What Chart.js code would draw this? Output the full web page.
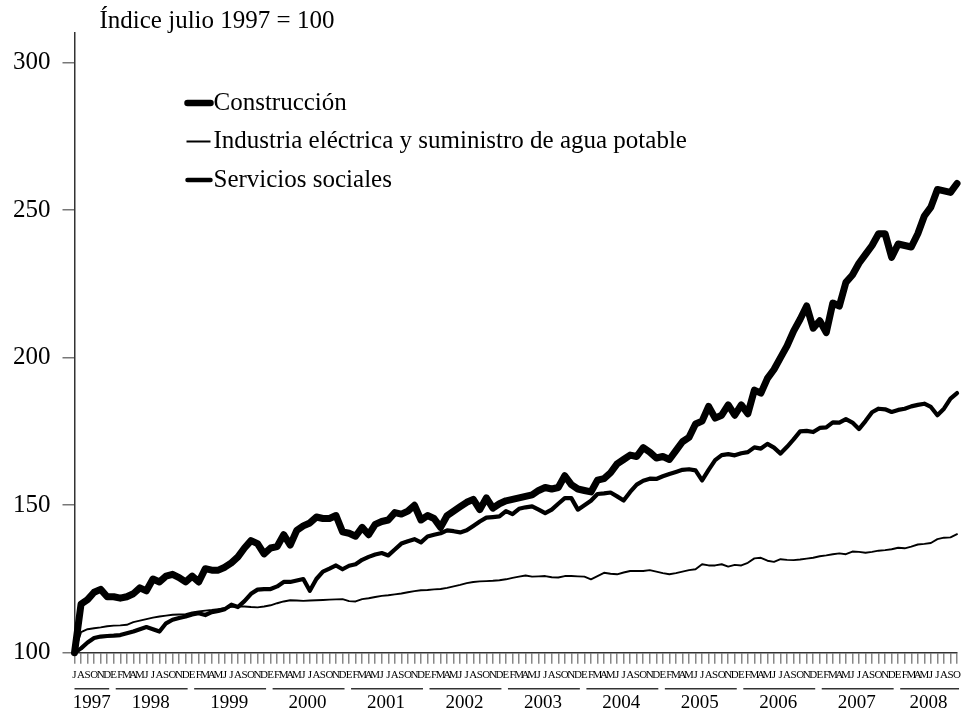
<!DOCTYPE html>
<html>
<head>
<meta charset="utf-8">
<script src="https://cdn.jsdelivr.net/npm/chart.js@4.4.0/dist/chart.umd.min.js"></script>
<style>
  html, body { margin: 0; padding: 0; background: #fff; }
</style>
</head>
<body>
<canvas id="chart" width="966" height="709"></canvas>
<script>
const TITULO = 'Índice julio 1997 = 100';
const ANIOS = [1997, 1998, 1999, 2000, 2001, 2002, 2003, 2004, 2005, 2006, 2007, 2008];
const MESES = ['E', 'F', 'M', 'A', 'M', 'J', 'J', 'A', 'S', 'O', 'N', 'D'];
const PRIMER_MES = 6;   // julio 1997
const ULTIMO_MES = 9;   // octubre 2008
const Y_TICKS = [100, 150, 200, 250, 300];

const construccion = [
    100, 116.5, 118, 120.5, 121.5, 119,
    119, 118.5, 119, 120, 122, 121, 125, 124, 126, 126.6, 125.5, 124,
    126, 124, 128.5, 128, 128, 129, 130.5, 132.5, 135.5, 138, 137, 133.5,
    135.5, 136, 140, 136.5, 141.5, 143, 144, 146, 145.5, 145.5, 146.5, 141,
    140.5, 139.5, 142.5, 140, 143.5, 144.5, 145, 147.5, 147, 148, 150, 145,
    146.5, 145.5, 142.5, 146.5, 148, 149.5, 151, 152, 148.5, 152.5, 149, 150.5,
    151.5, 152, 152.5, 153, 153.5, 155, 156, 155.5, 156, 160, 157, 155.5,
    155, 154.5, 158.5, 159, 161, 164, 165.5, 167, 166.5, 169.5, 168, 166,
    166.5, 165.5, 168.5, 171.5, 173, 177.5, 178.5, 183.5, 179.5, 180.5, 184, 180.5,
    184, 181, 189, 188, 193, 196, 200, 204, 209, 213, 217.5, 210,
    212.5, 208.5, 218.5, 217.5, 225.5, 228, 232, 235, 238, 242, 242, 234,
    238.5, 238, 237.5, 242, 248, 251, 257, 256.5, 256, 259
];
const industria = [
    100, 107, 108, 108.3, 108.6, 109,
    109.2, 109.3, 109.5, 110.4, 110.9, 111.4, 111.9, 112.3, 112.6, 112.9, 113, 113.1,
    113.7, 114, 114.3, 114.5, 114.8, 115.1, 115.6, 115.7, 115.7, 115.5, 115.4, 115.7,
    116.1, 116.8, 117.4, 117.8, 117.7, 117.6, 117.7, 117.8, 117.9, 118, 118.1, 118.2,
    117.5, 117.4, 118.2, 118.5, 118.9, 119.3, 119.5, 119.8, 120.1, 120.5, 120.9, 121.2,
    121.3, 121.5, 121.6, 122, 122.5, 123, 123.6, 124, 124.2, 124.3, 124.4, 124.6,
    124.9, 125.4, 125.8, 126.2, 125.8, 125.9, 126, 125.6, 125.5, 126, 126, 125.9,
    125.8, 124.9, 126, 127.1, 126.8, 126.6, 127.2, 127.7, 127.7, 127.7, 128, 127.5,
    127, 126.6, 127, 127.5, 128, 128.3, 130, 129.6, 129.6, 130, 129.2, 129.8,
    129.6, 130.5, 132, 132.2, 131.2, 130.8, 131.7, 131.5, 131.4, 131.6, 131.9, 132.2,
    132.7, 133, 133.4, 133.7, 133.4, 134.3, 134.2, 133.9, 134.2, 134.6, 134.8, 135.1,
    135.6, 135.4, 136, 136.7, 136.9, 137.2, 138.5, 139, 139.1, 140.2
];
const servicios = [
    100, 101.5, 103.5, 105, 105.5, 105.7,
    105.8, 106, 106.6, 107.2, 108, 108.7, 108, 107.2, 110, 111.2, 111.8, 112.3,
    113, 113.4, 112.8, 113.8, 114.2, 114.8, 116.3, 115.5, 117.5, 120, 121.4, 121.6,
    121.6, 122.5, 124, 124, 124.5, 125, 121, 125, 127.5, 128.5, 129.6, 128.3,
    129.5, 130, 131.5, 132.5, 133.3, 133.8, 133, 135, 137, 137.8, 138.5, 137.4,
    139.4, 140, 140.5, 141.5, 141.2, 140.8, 141.5, 143, 144.5, 145.8, 146, 146.2,
    148, 147, 148.8, 149.3, 149.6, 148.5, 147.3, 148.5, 150.5, 152.4, 152.4, 148.5,
    150, 151.5, 153.8, 154, 154.3, 153, 151.6, 154.5, 157, 158.3, 159, 158.9,
    159.8, 160.6, 161.3, 162, 162.2, 161.8, 158.4, 162, 165.3, 167, 167.3, 166.9,
    167.6, 168, 169.6, 169.2, 170.8, 169.5, 167.5, 169.8, 172.3, 175, 175.2, 174.8,
    176.2, 176.4, 178.1, 178, 179.2, 178, 175.8, 178.5, 181.5, 182.7, 182.5, 181.6,
    182.3, 182.7, 183.5, 184, 184.4, 183.3, 180.5, 182.7, 186.1, 188
];

// categorias mensuales: julio 1997 .. octubre 2008
const categorias = [];
const mesDe = [];
const anioDe = [];
ANIOS.forEach((anio, k) => {
    const desde = k === 0 ? PRIMER_MES : 0;
    const hasta = k === ANIOS.length - 1 ? ULTIMO_MES : 11;
    for (let m = desde; m <= hasta; m++) {
        categorias.push(MESES[m] + ' ' + anio);
        mesDe.push(MESES[m]);
        anioDe.push(anio);
    }
});

const SERIF = '"Liberation Serif", "Times New Roman", serif';

const decoracion = {
    id: 'decoracion',
    afterDraw(chart) {
        const {ctx, chartArea, scales} = chart;
        const x = scales.x;
        ctx.save();
        ctx.fillStyle = '#000';
        ctx.textBaseline = 'middle';

        // titulo
        ctx.font = `25px ${SERIF}`;
        ctx.textAlign = 'left';
        ctx.fillText(TITULO, chartArea.left + 25, 21);

        // leyenda
        chart.data.datasets.forEach((ds, i) => {
            const y = chartArea.top + 70 + i * 38.5;
            const x0 = chartArea.left + 111;
            ctx.strokeStyle = '#000';
            ctx.lineWidth = ds.legendWidth;
            ctx.lineCap = ds.legendWidth > 3 ? 'round' : 'butt';
            ctx.beginPath();
            ctx.moveTo(x0 + (ds.legendWidth > 3 ? 2 : 1), y);
            ctx.lineTo(x0 + 25, y);
            ctx.stroke();
            ctx.fillText(ds.label, x0 + 28, y);
        });

        // años bajo el eje
        ctx.font = `19px ${SERIF}`;
        ctx.textAlign = 'center';
        ctx.strokeStyle = '#333';
        ctx.lineWidth = 1.5;
        ctx.lineCap = 'butt';
        ANIOS.forEach(anio => {
            const primero = anioDe.indexOf(anio);
            const ultimo = anioDe.lastIndexOf(anio);
            const a = x.getPixelForValue(primero);
            const b = x.getPixelForValue(ultimo);
            const yl = chartArea.bottom + 36;
            ctx.beginPath();
            ctx.moveTo(primero === 0 ? a : a + 2, yl);
            ctx.lineTo(b + 2, yl);
            ctx.stroke();
            ctx.fillText(String(anio), (a + b) / 2 + 1, chartArea.bottom + 50);
        });
        ctx.restore();
    }
};

new Chart(document.getElementById('chart'), {
    type: 'line',
    data: {
        labels: categorias,
        datasets: [{
            label: 'Construcción',
            data: construccion,
            borderColor: '#000',
            borderWidth: 7,
            legendWidth: 6.5,
        }, {
            label: 'Industria eléctrica y suministro de agua potable',
            data: industria,
            borderColor: '#000',
            borderWidth: 1.9,
            legendWidth: 2,
        }, {
            label: 'Servicios sociales',
            data: servicios,
            borderColor: '#000',
            borderWidth: 4.2,
            legendWidth: 4.5,
        }]
    },
    options: {
        responsive: false,
        animation: false,
        layout: {padding: {top: 33, left: 1, right: 4, bottom: 22}},
        elements: {
            point: {radius: 0},
            line: {tension: 0, borderJoinStyle: 'round', borderCapStyle: 'round'}
        },
        datasets: {line: {clip: 8}},
        scales: {
            x: {
                offset: false,
                grid: {
                    offset: false,
                    drawOnChartArea: false,
                    tickLength: 11,
                    color: '#888',
                    lineWidth: 1.5
                },
                border: {color: '#333', width: 1.5},
                ticks: {
                    autoSkip: false,
                    maxRotation: 0,
                    minRotation: 0,
                    padding: 5,
                    color: '#000',
                    font: {family: SERIF, size: 11},
                    callback: (v, i) => mesDe[i]
                }
            },
            y: {
                min: 100,
                max: 310,
                afterBuildTicks: (scale) => {
                    scale.ticks = Y_TICKS.map(v => ({value: v}));
                },
                grid: {
                    drawOnChartArea: false,
                    tickLength: 12,
                    color: '#777',
                    lineWidth: 1.5
                },
                border: {color: '#333', width: 1.5},
                ticks: {
                    padding: 12,
                    color: '#000',
                    font: {family: SERIF, size: 25}
                }
            }
        },
        plugins: {
            legend: {display: false},
            tooltip: {enabled: false}
        }
    },
    plugins: [decoracion]
});
</script>
</body>
</html>
